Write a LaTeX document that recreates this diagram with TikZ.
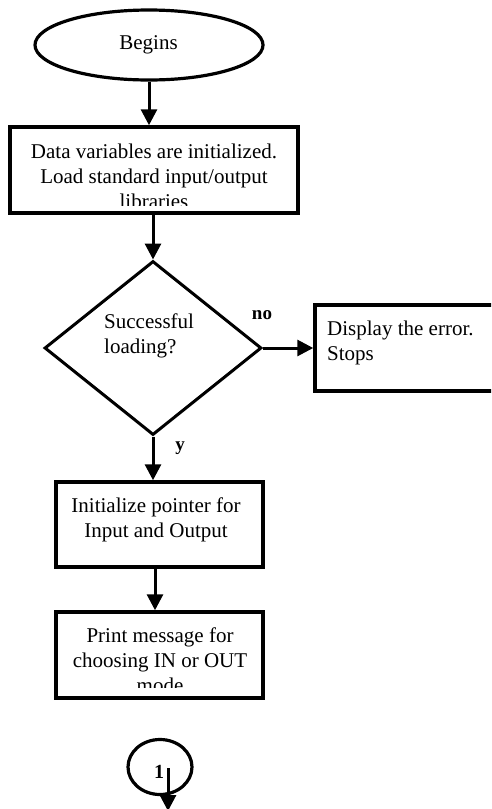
\documentclass[tikz,border=0pt]{standalone}
\usepackage{fontspec}
\setmainfont{Liberation Serif}
\usetikzlibrary{shapes.geometric,arrows.meta}
\begin{document}
\begin{tikzpicture}[x=1pt,y=-1pt,
  stepbox/.style={draw,line width=3.5pt,rectangle,inner sep=0pt},
  txt/.style={inner sep=0pt,font=\fontsize{21}{25}\selectfont},
  flag/.style={inner sep=0pt,font=\fontsize{19}{22}\selectfont\bfseries},
  flow/.style={line width=3pt,-{Triangle[width=16pt,length=16pt]}}]
\clip (0,0) rectangle (491,809);

% start terminal
\node[draw,ellipse,line width=3.2pt,inner sep=0pt,minimum width=228pt,minimum height=70pt] (begin) at (149,45) {};
\node[txt] (beginT) at (148.5,45) {Begins};

% initialisation box (text clipped at the bottom)
\node[stepbox,minimum width=288pt,minimum height=86pt] (init) at (154,170) {};
\begin{scope}
  \clip (10,127) rectangle (298,205);
  \node[txt,align=center] (initT) at (154,176) {Data variables are initialized.\\Load standard input/output\\libraries};
\end{scope}

% decision
\node[draw,diamond,line width=3pt,inner sep=0pt,minimum width=217pt,minimum height=174pt] (dec) at (153,348) {};
\node[txt,align=left,anchor=west] (decT) at (104,336) {Successful\\loading?};
\node[flag] (no) at (262,315) {no};
\node[flag] (yes) at (180,448) {y};

% error box, running off the right edge
\node[stepbox,minimum width=190pt,minimum height=86pt] (err) at (410,348) {};
\node[txt,align=left,anchor=west] (errT) at (327,343) {Display the error.\\Stops};

% pointer set-up
\node[stepbox,minimum width=207pt,minimum height=85pt] (io) at (159.5,524.5) {};
\node[txt,align=center] (ioT) at (156,520) {Initialize pointer for\\Input and Output};

% mode prompt (text clipped at the bottom)
\node[stepbox,minimum width=207pt,minimum height=86pt] (menu) at (159.5,655) {};
\begin{scope}
  \clip (56,612) rectangle (263,687);
  \node[txt,align=center] (menuT) at (160,660) {Print message for\\choosing IN or OUT\\mode};
\end{scope}

% off-page connector
\node[draw,ellipse,line width=3.2pt,inner sep=0pt,minimum width=64pt,minimum height=55pt] (conn) at (160,767) {};
\node[flag,font=\fontsize{20}{22}\selectfont\bfseries] (connT) at (159,772) {1};
\coordinate (c1) at (168,768);
\coordinate (c2) at (168,811);

% connectors
\draw[flow] (begin.south) -- (begin.south |- init.north);
\draw[flow] (dec.north |- init.south) -- (dec.north);
\draw[flow] (dec.east) -- (err.west);
\draw[flow] (dec.south) -- (dec.south |- io.north);
\draw[flow] ([xshift=-4.5pt]io.south) -- ([xshift=-4.5pt]menu.north);
\draw[flow] (c1) -- (c2);
\end{tikzpicture}
\end{document}
